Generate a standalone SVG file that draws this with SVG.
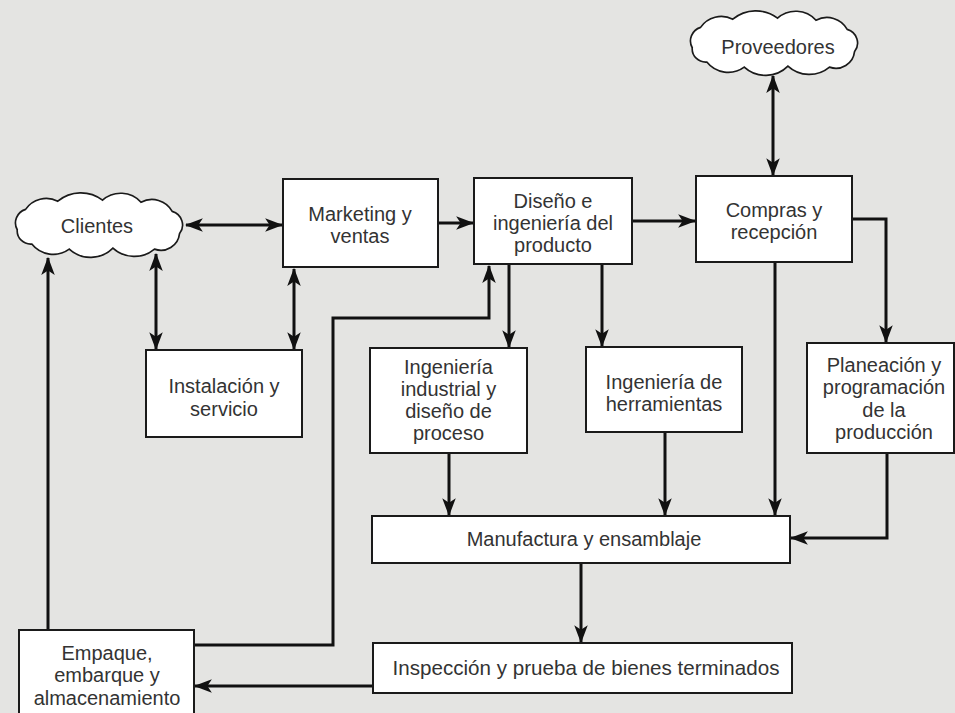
<svg xmlns="http://www.w3.org/2000/svg" width="955" height="713" viewBox="0 0 955 713">
<style>
.box{fill:#fff;stroke:#1a1a1a;stroke-width:2}
.cloud{fill:#fff;stroke:#1a1a1a;stroke-width:1.6}
.t{font-family:"Liberation Sans",Arial,sans-serif;font-size:20px;fill:#333;text-anchor:middle}
.c{fill:none;stroke:#111;stroke-width:3}
.ae{marker-end:url(#arr)}
.ab{marker-start:url(#arr);marker-end:url(#arr)}
</style>
<defs>
<marker id="arr" viewBox="0 0 16 12" refX="15" refY="6" markerWidth="18" markerHeight="13.5" markerUnits="userSpaceOnUse" orient="auto-start-reverse">
<path d="M0,0 L16,6 L0,12 L4,6 Z" fill="#111"/>
</marker>
<path id="cloudShape" d="M6,38 A14,14 0 0 1 14,18 A24,24 0 0 1 45,10 A34,34 0 0 1 88,9 A26,26 0 0 1 125,11 A22,22 0 0 1 155,20 A14,14 0 0 1 162,42 A18,18 0 0 1 138,57 A30,30 0 0 1 98,56 A30,30 0 0 1 56,57 A26,26 0 0 1 20,52 A13,13 0 0 1 6,38 Z"/>
</defs>
<rect x="0" y="0" width="955" height="713" fill="#e4e4e2"/>

<g id="connectors">
<path class="c ab" d="M186,225 H282"/>
<path class="c ab" d="M156,254 V349"/>
<path class="c ab" d="M294,269 V349"/>
<path class="c ae" d="M438,223 H473"/>
<path class="c ae" d="M632,221 H695"/>
<path class="c ab" d="M773,76 V175"/>
<path class="c ae" d="M509,265 V347"/>
<path class="c ae" d="M602,265 V346"/>
<path class="c ae" d="M852,219 H886 V342"/>
<path class="c ae" d="M775,263 V515"/>
<path class="c ae" d="M449,454 V515"/>
<path class="c ae" d="M665,433 V515"/>
<path class="c ae" d="M887,454 V538 H791"/>
<path class="c ae" d="M581,564 V642"/>
<path class="c ae" d="M373,686 H195"/>
<path class="c ae" d="M194,645 H333 V318 H489 V266"/>
<path class="c ae" d="M48,630 V258"/>
</g>

<g id="clientes">
<use href="#cloudShape" class="cloud" transform="translate(11,191) scale(1.04,1.02)"/>
<text class="t" x="97" y="233">Clientes</text>
</g>
<g id="proveedores">
<use href="#cloudShape" class="cloud" transform="translate(686,9) scale(1.04,1.02)"/>
<text class="t" x="778" y="54">Proveedores</text>
</g>
<g id="marketing">
<rect class="box" x="283" y="179" width="155" height="88"/>
<text class="t" x="360" y="221">Marketing y</text>
<text class="t" x="360" y="243">ventas</text>
</g>
<g id="diseno">
<rect class="box" x="474" y="178" width="158" height="86"/>
<text class="t" x="553" y="208">Diseño e</text>
<text class="t" x="553" y="230">ingeniería del</text>
<text class="t" x="553" y="252">producto</text>
</g>
<g id="compras">
<rect class="box" x="696" y="176" width="156" height="86"/>
<text class="t" x="774" y="217">Compras y</text>
<text class="t" x="774" y="239">recepción</text>
</g>
<g id="instalacion">
<rect class="box" x="146" y="350" width="156" height="87"/>
<text class="t" x="224" y="393">Instalación y</text>
<text class="t" x="224" y="416">servicio</text>
</g>
<g id="ing-industrial">
<rect class="box" x="370" y="348" width="157" height="105"/>
<text class="t" x="448.5" y="374">Ingeniería</text>
<text class="t" x="448.5" y="396">industrial y</text>
<text class="t" x="448.5" y="418">diseño de</text>
<text class="t" x="448.5" y="440">proceso</text>
</g>
<g id="ing-herramientas">
<rect class="box" x="586" y="347" width="156" height="85"/>
<text class="t" x="664" y="389">Ingeniería de</text>
<text class="t" x="664" y="411">herramientas</text>
</g>
<g id="planeacion">
<rect class="box" x="807" y="343" width="147" height="110"/>
<text class="t" x="884" y="372">Planeación y</text>
<text class="t" x="884" y="394">programación</text>
<text class="t" x="884" y="417">de la</text>
<text class="t" x="884" y="439">producción</text>
</g>
<g id="manufactura">
<rect class="box" x="372" y="516" width="418" height="47"/>
<text class="t" x="584" y="546">Manufactura y ensamblaje</text>
</g>
<g id="inspeccion">
<rect class="box" x="373" y="643" width="419" height="50"/>
<text class="t" x="586" y="675" style="font-size:20.6px">Inspección y prueba de bienes terminados</text>
</g>
<g id="empaque">
<rect class="box" x="19" y="630" width="175" height="92"/>
<text class="t" x="107" y="660">Empaque,</text>
<text class="t" x="107" y="682">embarque y</text>
<text class="t" x="107" y="705">almacenamiento</text>
</g>
</svg>
